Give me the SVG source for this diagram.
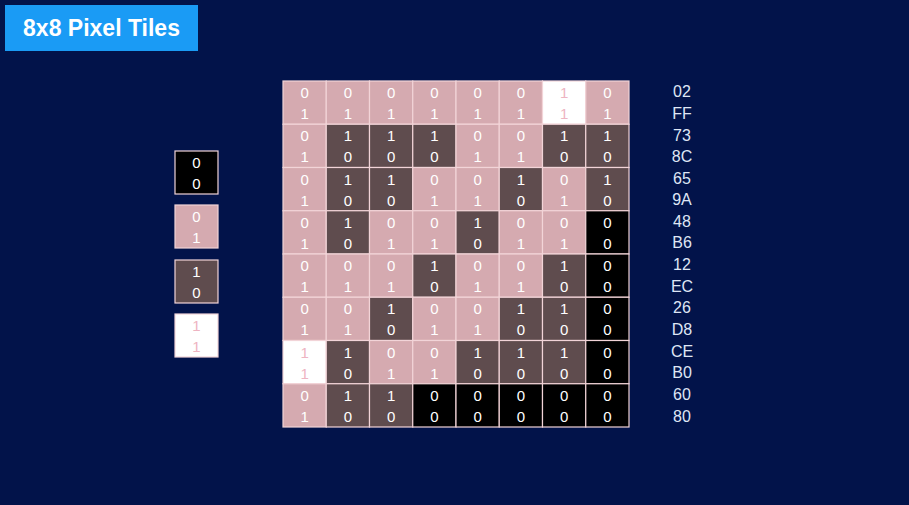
<svg xmlns="http://www.w3.org/2000/svg" width="909" height="505" viewBox="0 0 909 505">
<style>
.t{font-family:"Liberation Sans",Arial,sans-serif;font-size:15px;fill:#fff;text-anchor:middle}
.pk{fill:#eeb4c2}
.h{font-family:"Liberation Sans",Arial,sans-serif;font-size:16px;fill:#dfe6f5;text-anchor:middle}
.c{stroke:#f2d4d8;stroke-width:1.2}
.b00{fill:#000}.b01{fill:#d5aab0}.b10{fill:#5f4c4e}.b11{fill:#fff}
</style>
<rect width="909" height="505" fill="#02134a"/>
<g id="title"><rect x="5" y="5" width="193" height="46" fill="#1a9bf5"/><text x="101.5" y="36" font-family="Liberation Sans,Arial,sans-serif" font-weight="bold" font-size="23" fill="#fff" text-anchor="middle">8x8 Pixel Tiles</text></g>
<g id="legend">
<g id="leg00"><rect class="b00 c" x="175" y="151" width="43" height="43" stroke="#c8c8e0"/><text class="t" x="196.5" y="168">0</text><text class="t" x="196.5" y="189">0</text></g>
<g id="leg01"><rect class="b01 c" x="175" y="205" width="43" height="43"/><text class="t" x="196.5" y="222">0</text><text class="t" x="196.5" y="243">1</text></g>
<g id="leg10"><rect class="b10 c" x="175" y="260" width="43" height="43"/><text class="t" x="196.5" y="277">1</text><text class="t" x="196.5" y="298">0</text></g>
<g id="leg11"><rect class="b11 c" x="175" y="314" width="43" height="43"/><text class="t pk" x="196.5" y="331">1</text><text class="t pk" x="196.5" y="352">1</text></g>
</g>
<g id="grid">
<g id="r0c0"><rect class="b01 c" x="283" y="81" width="43.25" height="43.25"/><text class="t" x="304.6" y="98">0</text><text class="t" x="304.6" y="119">1</text></g>
<g id="r0c1"><rect class="b01 c" x="326.25" y="81" width="43.25" height="43.25"/><text class="t" x="347.9" y="98">0</text><text class="t" x="347.9" y="119">1</text></g>
<g id="r0c2"><rect class="b01 c" x="369.5" y="81" width="43.25" height="43.25"/><text class="t" x="391.1" y="98">0</text><text class="t" x="391.1" y="119">1</text></g>
<g id="r0c3"><rect class="b01 c" x="412.75" y="81" width="43.25" height="43.25"/><text class="t" x="434.4" y="98">0</text><text class="t" x="434.4" y="119">1</text></g>
<g id="r0c4"><rect class="b01 c" x="456" y="81" width="43.25" height="43.25"/><text class="t" x="477.6" y="98">0</text><text class="t" x="477.6" y="119">1</text></g>
<g id="r0c5"><rect class="b01 c" x="499.25" y="81" width="43.25" height="43.25"/><text class="t" x="520.9" y="98">0</text><text class="t" x="520.9" y="119">1</text></g>
<g id="r0c6"><rect class="b11 c" x="542.5" y="81" width="43.25" height="43.25"/><text class="t pk" x="564.1" y="98">1</text><text class="t pk" x="564.1" y="119">1</text></g>
<g id="r0c7"><rect class="b01 c" x="585.75" y="81" width="43.25" height="43.25"/><text class="t" x="607.4" y="98">0</text><text class="t" x="607.4" y="119">1</text></g>

<g id="r1c0"><rect class="b01 c" x="283" y="124.25" width="43.25" height="43.25"/><text class="t" x="304.6" y="141.25">0</text><text class="t" x="304.6" y="162.25">1</text></g>
<g id="r1c1"><rect class="b10 c" x="326.25" y="124.25" width="43.25" height="43.25"/><text class="t" x="347.9" y="141.25">1</text><text class="t" x="347.9" y="162.25">0</text></g>
<g id="r1c2"><rect class="b10 c" x="369.5" y="124.25" width="43.25" height="43.25"/><text class="t" x="391.1" y="141.25">1</text><text class="t" x="391.1" y="162.25">0</text></g>
<g id="r1c3"><rect class="b10 c" x="412.75" y="124.25" width="43.25" height="43.25"/><text class="t" x="434.4" y="141.25">1</text><text class="t" x="434.4" y="162.25">0</text></g>
<g id="r1c4"><rect class="b01 c" x="456" y="124.25" width="43.25" height="43.25"/><text class="t" x="477.6" y="141.25">0</text><text class="t" x="477.6" y="162.25">1</text></g>
<g id="r1c5"><rect class="b01 c" x="499.25" y="124.25" width="43.25" height="43.25"/><text class="t" x="520.9" y="141.25">0</text><text class="t" x="520.9" y="162.25">1</text></g>
<g id="r1c6"><rect class="b10 c" x="542.5" y="124.25" width="43.25" height="43.25"/><text class="t" x="564.1" y="141.25">1</text><text class="t" x="564.1" y="162.25">0</text></g>
<g id="r1c7"><rect class="b10 c" x="585.75" y="124.25" width="43.25" height="43.25"/><text class="t" x="607.4" y="141.25">1</text><text class="t" x="607.4" y="162.25">0</text></g>

<g id="r2c0"><rect class="b01 c" x="283" y="167.5" width="43.25" height="43.25"/><text class="t" x="304.6" y="184.5">0</text><text class="t" x="304.6" y="205.5">1</text></g>
<g id="r2c1"><rect class="b10 c" x="326.25" y="167.5" width="43.25" height="43.25"/><text class="t" x="347.9" y="184.5">1</text><text class="t" x="347.9" y="205.5">0</text></g>
<g id="r2c2"><rect class="b10 c" x="369.5" y="167.5" width="43.25" height="43.25"/><text class="t" x="391.1" y="184.5">1</text><text class="t" x="391.1" y="205.5">0</text></g>
<g id="r2c3"><rect class="b01 c" x="412.75" y="167.5" width="43.25" height="43.25"/><text class="t" x="434.4" y="184.5">0</text><text class="t" x="434.4" y="205.5">1</text></g>
<g id="r2c4"><rect class="b01 c" x="456" y="167.5" width="43.25" height="43.25"/><text class="t" x="477.6" y="184.5">0</text><text class="t" x="477.6" y="205.5">1</text></g>
<g id="r2c5"><rect class="b10 c" x="499.25" y="167.5" width="43.25" height="43.25"/><text class="t" x="520.9" y="184.5">1</text><text class="t" x="520.9" y="205.5">0</text></g>
<g id="r2c6"><rect class="b01 c" x="542.5" y="167.5" width="43.25" height="43.25"/><text class="t" x="564.1" y="184.5">0</text><text class="t" x="564.1" y="205.5">1</text></g>
<g id="r2c7"><rect class="b10 c" x="585.75" y="167.5" width="43.25" height="43.25"/><text class="t" x="607.4" y="184.5">1</text><text class="t" x="607.4" y="205.5">0</text></g>

<g id="r3c0"><rect class="b01 c" x="283" y="210.75" width="43.25" height="43.25"/><text class="t" x="304.6" y="227.75">0</text><text class="t" x="304.6" y="248.75">1</text></g>
<g id="r3c1"><rect class="b10 c" x="326.25" y="210.75" width="43.25" height="43.25"/><text class="t" x="347.9" y="227.75">1</text><text class="t" x="347.9" y="248.75">0</text></g>
<g id="r3c2"><rect class="b01 c" x="369.5" y="210.75" width="43.25" height="43.25"/><text class="t" x="391.1" y="227.75">0</text><text class="t" x="391.1" y="248.75">1</text></g>
<g id="r3c3"><rect class="b01 c" x="412.75" y="210.75" width="43.25" height="43.25"/><text class="t" x="434.4" y="227.75">0</text><text class="t" x="434.4" y="248.75">1</text></g>
<g id="r3c4"><rect class="b10 c" x="456" y="210.75" width="43.25" height="43.25"/><text class="t" x="477.6" y="227.75">1</text><text class="t" x="477.6" y="248.75">0</text></g>
<g id="r3c5"><rect class="b01 c" x="499.25" y="210.75" width="43.25" height="43.25"/><text class="t" x="520.9" y="227.75">0</text><text class="t" x="520.9" y="248.75">1</text></g>
<g id="r3c6"><rect class="b01 c" x="542.5" y="210.75" width="43.25" height="43.25"/><text class="t" x="564.1" y="227.75">0</text><text class="t" x="564.1" y="248.75">1</text></g>
<g id="r3c7"><rect class="b00 c" x="585.75" y="210.75" width="43.25" height="43.25"/><text class="t" x="607.4" y="227.75">0</text><text class="t" x="607.4" y="248.75">0</text></g>

<g id="r4c0"><rect class="b01 c" x="283" y="254" width="43.25" height="43.25"/><text class="t" x="304.6" y="271">0</text><text class="t" x="304.6" y="292">1</text></g>
<g id="r4c1"><rect class="b01 c" x="326.25" y="254" width="43.25" height="43.25"/><text class="t" x="347.9" y="271">0</text><text class="t" x="347.9" y="292">1</text></g>
<g id="r4c2"><rect class="b01 c" x="369.5" y="254" width="43.25" height="43.25"/><text class="t" x="391.1" y="271">0</text><text class="t" x="391.1" y="292">1</text></g>
<g id="r4c3"><rect class="b10 c" x="412.75" y="254" width="43.25" height="43.25"/><text class="t" x="434.4" y="271">1</text><text class="t" x="434.4" y="292">0</text></g>
<g id="r4c4"><rect class="b01 c" x="456" y="254" width="43.25" height="43.25"/><text class="t" x="477.6" y="271">0</text><text class="t" x="477.6" y="292">1</text></g>
<g id="r4c5"><rect class="b01 c" x="499.25" y="254" width="43.25" height="43.25"/><text class="t" x="520.9" y="271">0</text><text class="t" x="520.9" y="292">1</text></g>
<g id="r4c6"><rect class="b10 c" x="542.5" y="254" width="43.25" height="43.25"/><text class="t" x="564.1" y="271">1</text><text class="t" x="564.1" y="292">0</text></g>
<g id="r4c7"><rect class="b00 c" x="585.75" y="254" width="43.25" height="43.25"/><text class="t" x="607.4" y="271">0</text><text class="t" x="607.4" y="292">0</text></g>

<g id="r5c0"><rect class="b01 c" x="283" y="297.25" width="43.25" height="43.25"/><text class="t" x="304.6" y="314.25">0</text><text class="t" x="304.6" y="335.25">1</text></g>
<g id="r5c1"><rect class="b01 c" x="326.25" y="297.25" width="43.25" height="43.25"/><text class="t" x="347.9" y="314.25">0</text><text class="t" x="347.9" y="335.25">1</text></g>
<g id="r5c2"><rect class="b10 c" x="369.5" y="297.25" width="43.25" height="43.25"/><text class="t" x="391.1" y="314.25">1</text><text class="t" x="391.1" y="335.25">0</text></g>
<g id="r5c3"><rect class="b01 c" x="412.75" y="297.25" width="43.25" height="43.25"/><text class="t" x="434.4" y="314.25">0</text><text class="t" x="434.4" y="335.25">1</text></g>
<g id="r5c4"><rect class="b01 c" x="456" y="297.25" width="43.25" height="43.25"/><text class="t" x="477.6" y="314.25">0</text><text class="t" x="477.6" y="335.25">1</text></g>
<g id="r5c5"><rect class="b10 c" x="499.25" y="297.25" width="43.25" height="43.25"/><text class="t" x="520.9" y="314.25">1</text><text class="t" x="520.9" y="335.25">0</text></g>
<g id="r5c6"><rect class="b10 c" x="542.5" y="297.25" width="43.25" height="43.25"/><text class="t" x="564.1" y="314.25">1</text><text class="t" x="564.1" y="335.25">0</text></g>
<g id="r5c7"><rect class="b00 c" x="585.75" y="297.25" width="43.25" height="43.25"/><text class="t" x="607.4" y="314.25">0</text><text class="t" x="607.4" y="335.25">0</text></g>

<g id="r6c0"><rect class="b11 c" x="283" y="340.5" width="43.25" height="43.25"/><text class="t pk" x="304.6" y="357.5">1</text><text class="t pk" x="304.6" y="378.5">1</text></g>
<g id="r6c1"><rect class="b10 c" x="326.25" y="340.5" width="43.25" height="43.25"/><text class="t" x="347.9" y="357.5">1</text><text class="t" x="347.9" y="378.5">0</text></g>
<g id="r6c2"><rect class="b01 c" x="369.5" y="340.5" width="43.25" height="43.25"/><text class="t" x="391.1" y="357.5">0</text><text class="t" x="391.1" y="378.5">1</text></g>
<g id="r6c3"><rect class="b01 c" x="412.75" y="340.5" width="43.25" height="43.25"/><text class="t" x="434.4" y="357.5">0</text><text class="t" x="434.4" y="378.5">1</text></g>
<g id="r6c4"><rect class="b10 c" x="456" y="340.5" width="43.25" height="43.25"/><text class="t" x="477.6" y="357.5">1</text><text class="t" x="477.6" y="378.5">0</text></g>
<g id="r6c5"><rect class="b10 c" x="499.25" y="340.5" width="43.25" height="43.25"/><text class="t" x="520.9" y="357.5">1</text><text class="t" x="520.9" y="378.5">0</text></g>
<g id="r6c6"><rect class="b10 c" x="542.5" y="340.5" width="43.25" height="43.25"/><text class="t" x="564.1" y="357.5">1</text><text class="t" x="564.1" y="378.5">0</text></g>
<g id="r6c7"><rect class="b00 c" x="585.75" y="340.5" width="43.25" height="43.25"/><text class="t" x="607.4" y="357.5">0</text><text class="t" x="607.4" y="378.5">0</text></g>

<g id="r7c0"><rect class="b01 c" x="283" y="383.75" width="43.25" height="43.25"/><text class="t" x="304.6" y="400.75">0</text><text class="t" x="304.6" y="421.75">1</text></g>
<g id="r7c1"><rect class="b10 c" x="326.25" y="383.75" width="43.25" height="43.25"/><text class="t" x="347.9" y="400.75">1</text><text class="t" x="347.9" y="421.75">0</text></g>
<g id="r7c2"><rect class="b10 c" x="369.5" y="383.75" width="43.25" height="43.25"/><text class="t" x="391.1" y="400.75">1</text><text class="t" x="391.1" y="421.75">0</text></g>
<g id="r7c3"><rect class="b00 c" x="412.75" y="383.75" width="43.25" height="43.25"/><text class="t" x="434.4" y="400.75">0</text><text class="t" x="434.4" y="421.75">0</text></g>
<g id="r7c4"><rect class="b00 c" x="456" y="383.75" width="43.25" height="43.25"/><text class="t" x="477.6" y="400.75">0</text><text class="t" x="477.6" y="421.75">0</text></g>
<g id="r7c5"><rect class="b00 c" x="499.25" y="383.75" width="43.25" height="43.25"/><text class="t" x="520.9" y="400.75">0</text><text class="t" x="520.9" y="421.75">0</text></g>
<g id="r7c6"><rect class="b00 c" x="542.5" y="383.75" width="43.25" height="43.25"/><text class="t" x="564.1" y="400.75">0</text><text class="t" x="564.1" y="421.75">0</text></g>
<g id="r7c7"><rect class="b00 c" x="585.75" y="383.75" width="43.25" height="43.25"/><text class="t" x="607.4" y="400.75">0</text><text class="t" x="607.4" y="421.75">0</text></g>
</g>
<g id="hex">
<text class="h" x="682" y="97">02</text><text class="h" x="682" y="119">FF</text>
<text class="h" x="682" y="141">73</text><text class="h" x="682" y="162">8C</text>
<text class="h" x="682" y="184">65</text><text class="h" x="682" y="205">9A</text>
<text class="h" x="682" y="227">48</text><text class="h" x="682" y="248">B6</text>
<text class="h" x="682" y="270">12</text><text class="h" x="682" y="292">EC</text>
<text class="h" x="682" y="313">26</text><text class="h" x="682" y="335">D8</text>
<text class="h" x="682" y="357">CE</text><text class="h" x="682" y="378">B0</text>
<text class="h" x="682" y="400">60</text><text class="h" x="682" y="422">80</text>
</g>
<g id="connectors"/>
</svg>
